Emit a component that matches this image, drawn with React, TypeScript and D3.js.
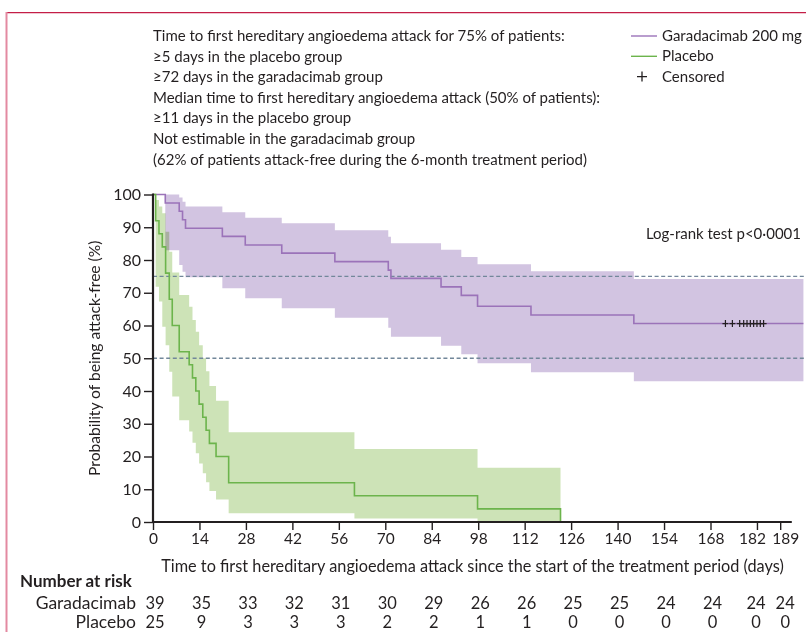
import { useEffect, useRef } from 'react'
import * as d3 from 'd3'

const WIDTH = 806
const HEIGHT = 632
const X_LEFT = 153
const X_RIGHT = 791.8
const Y_BOTTOM = 522
const Y_TOP = 194.5

const FONT = 'Lato, "Open Sans", sans-serif'
const PURPLE = '#9b73b9'
const PURPLE_BAND = '#d2c4e1'
const GREEN = '#6cb44c'
const GREEN_BAND = '#cde3b7'
const DASH = '#72879a'
const INK = '#231f20'

// Garadacimab 200 mg (days, % attack-free, 95% CI)
const garaTimes = [0, 3.7, 7.9, 8.9, 9.8, 20.9, 27.8, 38.8, 54.8, 70.9, 71.7, 86.8, 92.9, 97.8, 113.9, 144.9, 196]
const garaSurv = [100, 97.4, 94.9, 92.3, 89.7, 87.2, 84.6, 82.1, 79.5, 76.9, 74.4, 71.8, 69.2, 65.9, 63.2, 60.6, 60.6]
const garaUpper = [100, 100, 99.1, 97.8, 96.3, 94.6, 92.9, 91.2, 89.1, 87.1, 85.1, 83.1, 80.9, 78.7, 76.6, 74.2, 74.2]
const garaLower = [100, 83, 78.5, 76.4, 74.7, 71.4, 68.3, 65.3, 62.4, 59.3, 56.6, 53.8, 51.2, 48.5, 45.7, 43, 43]
const garaCensored = [172.5, 174.6, 176.8, 178, 179, 180, 181, 182, 183, 184]

// Placebo
const placeboTimes = [0, 0.8, 1.8, 2.8, 3.8, 4.9, 5.8, 7.9, 10.9, 11.9, 12.9, 13.9, 15, 16, 17, 19, 22.8, 60.7, 97.8, 122.8]
const placeboSurv = [100, 92, 88, 84, 76, 68, 60, 52, 48, 44, 40, 36, 32, 28, 24, 20, 12, 8, 4, 0]
const placeboUpper = [100, 98.3, 96.3, 94.3, 88.6, 82.5, 76.2, 69.3, 65.7, 61.7, 58.1, 54, 50, 46, 41.5, 37, 27.4, 22.3, 16.6, 16.6]
const placeboLower = [100, 71.8, 67.3, 59.6, 54, 45.9, 38.3, 31.1, 27.6, 24.2, 21, 17.9, 14.9, 12.1, 9.5, 6.9, 2.7, 1.1, 0.3, 0.3]

const xTicks = [0, 14, 28, 42, 56, 70, 84, 98, 112, 126, 140, 154, 168, 182, 189]
const yTicks = [0, 10, 20, 30, 40, 50, 60, 70, 80, 90, 100]
const refLines = [75, 50]

const riskGara = [39, 35, 33, 32, 31, 30, 29, 26, 26, 25, 25, 24, 24, 24, 24]
const riskPlacebo = [25, 9, 3, 3, 3, 2, 2, 1, 1, 0, 0, 0, 0, 0, 0]

const notes = [
  'Time to first hereditary angioedema attack for 75% of patients:',
  '≥5 days in the placebo group',
  '≥72 days in the garadacimab group',
  'Median time to first hereditary angioedema attack (50% of patients):',
  '≥11 days in the placebo group',
  'Not estimable in the garadacimab group',
  '(62% of patients attack-free during the 6-month treatment period)',
]

// the two last tick labels sit close together, nudge them apart
const tickNudge = (t: number) => (t === 182 ? -5 : t === 189 ? 5 : 0)

function App() {
  const svgRef = useRef<SVGSVGElement>(null)

  useEffect(() => {
    document.body.style.margin = '0'
    if (!svgRef.current) return
    const svg = d3.select(svgRef.current)
    svg.selectAll('*').remove()

    const x = d3.scaleLinear().domain([0, 192.5]).range([X_LEFT, X_RIGHT])
    const y = d3.scaleLinear().domain([0, 100]).range([Y_BOTTOM, Y_TOP])

    // page frame
    svg.append('line').attr('x1', 6).attr('x2', WIDTH).attr('y1', 12.6).attr('y2', 12.6)
      .attr('stroke', '#c41e47').attr('stroke-width', 1.3)
    svg.append('line').attr('x1', 6.5).attr('x2', 6.5).attr('y1', 12).attr('y2', HEIGHT)
      .attr('stroke', '#e38aa1').attr('stroke-width', 2)

    const area = d3.area<number>()
      .curve(d3.curveStepAfter)
    const line = d3.line<[number, number]>()
      .x(d => x(d[0]))
      .y(d => y(d[1]))
      .curve(d3.curveStepAfter)

    const band = (times: number[], lo: number[], hi: number[], fill: string) => {
      svg.append('path')
        .attr('d', area.x((_, i) => x(times[i])).y0((_, i) => y(lo[i])).y1((_, i) => y(hi[i]))(times))
        .attr('fill', fill)
        .style('mix-blend-mode', 'multiply')
    }
    band(garaTimes, garaLower, garaUpper, PURPLE_BAND)
    band(placeboTimes, placeboLower, placeboUpper, GREEN_BAND)

    // reference lines at 75% and 50%
    svg.selectAll('.ref')
      .data(refLines)
      .enter()
      .append('line')
      .attr('x1', X_LEFT)
      .attr('x2', 805)
      .attr('y1', d => y(d))
      .attr('y2', d => y(d))
      .attr('stroke', DASH)
      .attr('stroke-width', 1.4)
      .attr('stroke-dasharray', '4,2.6')

    svg.append('path')
      .attr('d', line(garaTimes.map((t, i) => [t, garaSurv[i]] as [number, number])))
      .attr('fill', 'none').attr('stroke', PURPLE).attr('stroke-width', 1.6)
    svg.append('path')
      .attr('d', line(placeboTimes.map((t, i) => [t, placeboSurv[i]] as [number, number])))
      .attr('fill', 'none').attr('stroke', GREEN).attr('stroke-width', 1.6)

    // censored marks
    const censorY = y(garaSurv[garaSurv.length - 1])
    svg.selectAll('.censor')
      .data(garaCensored)
      .enter()
      .append('path')
      .attr('d', d => `M${x(d) - 3},${censorY}h6M${x(d)},${censorY - 3.5}v7`)
      .attr('stroke', INK)
      .attr('stroke-width', 1.2)

    // axes
    const yAxis = svg.append('g').attr('transform', `translate(${X_LEFT},0)`)
      .call(d3.axisLeft(y).tickValues(yTicks).tickSize(9).tickPadding(3).tickFormat(d3.format('d')))
    const xAxis = svg.append('g').attr('transform', `translate(0,${Y_BOTTOM})`)
      .call(d3.axisBottom(x).tickValues(xTicks).tickSize(8).tickPadding(3).tickFormat(d3.format('d')))
    ;[yAxis, xAxis].forEach(g => {
      g.select('.domain').attr('stroke', INK).attr('stroke-width', 2.2)
      g.selectAll('.tick line').attr('stroke', INK).attr('stroke-width', 1.4)
      g.selectAll('.tick text').attr('fill', INK).style('font-family', FONT)
    })
    yAxis.selectAll('.tick text').style('font-size', '16px')
    xAxis.selectAll('.tick text').style('font-size', '15.5px')
      .attr('dx', d => tickNudge(d as number))
    yAxis.select('.domain').attr('d', `M0,${Y_BOTTOM + 1}V${Y_TOP - 1}`)
    xAxis.select('.domain').attr('d', `M${X_LEFT - 1},0H${X_RIGHT}`)

    const text = (tx: number, ty: number, s: string, anchor = 'start', size = 15, weight = 'normal') =>
      svg.append('text')
        .attr('x', tx).attr('y', ty)
        .attr('text-anchor', anchor)
        .attr('fill', INK)
        .style('font-family', FONT)
        .style('font-size', `${size}px`)
        .style('font-weight', weight)
        .text(s)

    svg.append('text')
      .attr('transform', `translate(100,${(Y_TOP + Y_BOTTOM) / 2}) rotate(-90)`)
      .attr('text-anchor', 'middle')
      .attr('fill', INK)
      .style('font-family', FONT)
      .style('font-size', '15.6px')
      .text('Probability of being attack-free (%)')

    text(472.5, 571.5, 'Time to first hereditary angioedema attack since the start of the treatment period (days)', 'middle', 16.3)
    text(801, 239, 'Log-rank test p<0·0001', 'end')

    notes.forEach((s, i) => text(X_LEFT, 41 + i * 20.6, s))

    // legend
    const legend = [
      { label: 'Garadacimab 200 mg', color: PURPLE },
      { label: 'Placebo', color: GREEN },
    ]
    legend.forEach((d, i) => {
      const ly = 36 + i * 20.3
      svg.append('line').attr('x1', 631).attr('x2', 657).attr('y1', ly).attr('y2', ly)
        .attr('stroke', d.color).attr('stroke-width', 1.4)
      text(662, ly + 5, d.label)
    })
    svg.append('path').attr('d', 'M637,76.6h10M642,71.6v10').attr('stroke', INK).attr('stroke-width', 1.3)
    text(662, 81.6, 'Censored')

    // number at risk table
    text(20, 587, 'Number at risk', 'start', 17, 'bold')
    text(136, 609, 'Garadacimab', 'end', 17.5)
    text(136, 628, 'Placebo', 'end', 17.5)
    xTicks.forEach((t, i) => {
      text(x(t) + 2 + tickNudge(t) * 0.6, 609, String(riskGara[i]), 'middle', 16.5)
      text(x(t) + 2 + tickNudge(t) * 0.6, 628, String(riskPlacebo[i]), 'middle', 16.5)
    })
  }, [])

  return (
    <div>
      <svg ref={svgRef} width={WIDTH} height={HEIGHT} style={{ display: 'block' }}></svg>
    </div>
  )
}

export default App
